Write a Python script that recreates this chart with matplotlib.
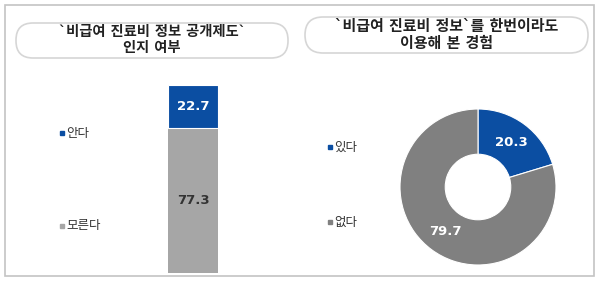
import matplotlib.pyplot as plt
from matplotlib.patches import FancyBboxPatch, Rectangle

plt.rcParams['font.family'] = ['Noto Sans CJK KR', 'DejaVu Sans']

# Daten
bar_labels = ['모른다', '안다']
bar_values = [77.3, 22.7]
pie_labels = ['있다', '없다']
pie_values = [20.3, 79.7]

blue = '#0b4ea2'
grey_bar = '#a6a6a6'
grey_pie = '#808080'

fig = plt.figure(figsize=(6.0, 2.84), dpi=100)

# Hintergrund in Pixelkoordinaten
bg = fig.add_axes([0, 0, 1, 1])
bg.set_xlim(0, 600)
bg.set_ylim(284, 0)
bg.axis('off')
bg.add_patch(Rectangle((5, 5), 589, 271, fill=False, edgecolor='#c4c4c4', lw=1.2))
bg.add_patch(FancyBboxPatch((16, 23), 272, 35, boxstyle='round,pad=0,rounding_size=17',
                            facecolor='white', edgecolor='#d6d6d6', lw=1.2))
bg.add_patch(FancyBboxPatch((305, 17), 283, 36, boxstyle='round,pad=0,rounding_size=18',
                            facecolor='white', edgecolor='#d6d6d6', lw=1.2))
title_fam = ['DejaVu Sans', 'Noto Sans CJK KR']
bg.text(152, 40, '`비급여 진료비 정보 공개제도`\n인지 여부', ha='center', va='center',
        fontsize=10.3, fontweight='bold', color='#222222', linespacing=1.15, family=title_fam)
bg.text(447, 35, '`비급여 진료비 정보`를 한번이라도\n이용해 본 경험', ha='center', va='center',
        fontsize=10.8, fontweight='bold', color='#222222', linespacing=1.15, family=title_fam)

# Legenden
legend = [(62, 133, blue, bar_labels[1]), (62, 226, grey_bar, bar_labels[0]),
          (330, 147, blue, pie_labels[0]), (330, 222, grey_pie, pie_labels[1])]
for lx, ly, c, t in legend:
    bg.plot(lx, ly, 's', color=c, markersize=3.5)
    bg.text(lx + 4, ly, t, color='#333333', fontsize=9, va='center', ha='left')

# Gestapelter Balken
ax1 = fig.add_axes([168/600, (284-273)/284, 50/600, (273-85)/284])
ax1.bar(0, bar_values[0], width=1, color=grey_bar)
ax1.bar(0, bar_values[1], bottom=bar_values[0], width=1, color=blue,
        edgecolor='white', lw=0.8)
ax1.text(0, bar_values[0]/2, f'{bar_values[0]:.1f}', ha='center', va='center',
         fontsize=9.5, fontweight='bold', color='#333333', family='DejaVu Sans')
ax1.text(0, bar_values[0] + bar_values[1]/2, f'{bar_values[1]:.1f}', ha='center', va='center',
         fontsize=9.5, fontweight='bold', color='white', family='DejaVu Sans')
ax1.set_xlim(-0.5, 0.5)
ax1.set_ylim(0, 100)
ax1.axis('off')

# Ring
ax2 = fig.add_axes([400/600, (284-187-78)/284, 156/600, 156/284])
ax2.pie(pie_values, colors=[blue, grey_pie], startangle=90, counterclock=False,
        autopct='%.1f', pctdistance=0.71,
        wedgeprops=dict(width=0.58, edgecolor='white', linewidth=0.8),
        textprops=dict(color='white', fontsize=9.5, fontweight='bold', family='DejaVu Sans'))
ax2.set_xlim(-1, 1)
ax2.set_ylim(-1, 1)
ax2.set_aspect('equal')

fig.savefig('out.png', dpi=100)
